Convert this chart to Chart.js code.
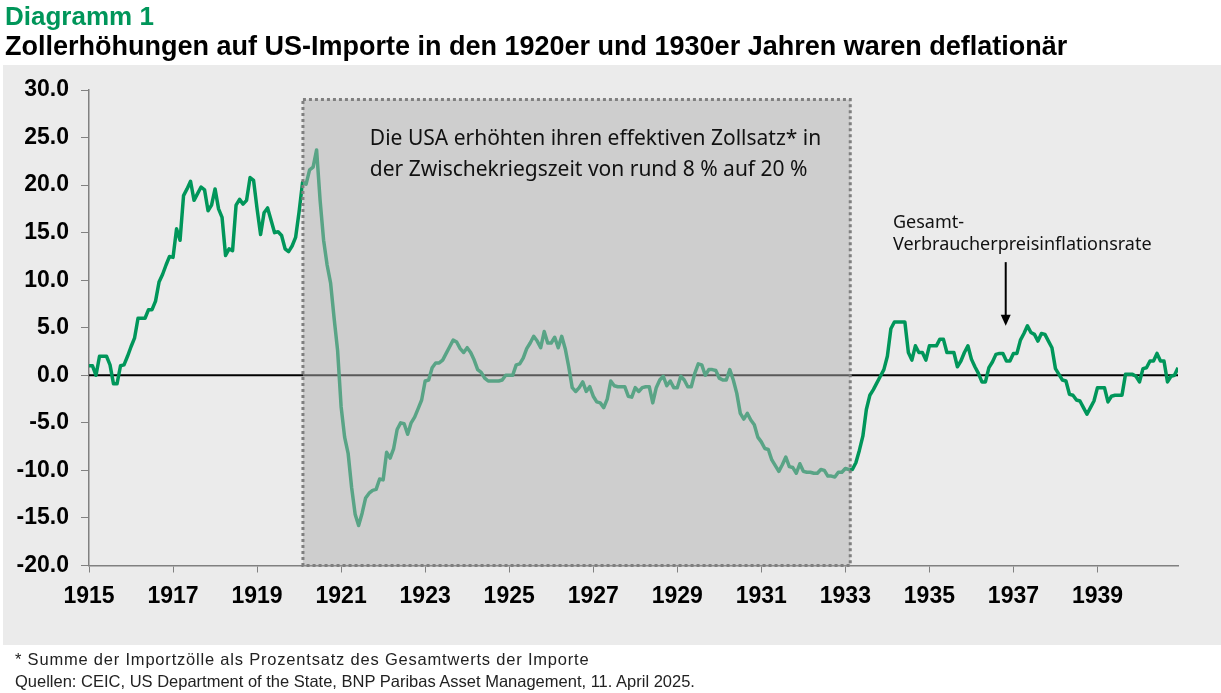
<!DOCTYPE html>
<html lang="de">
<head>
<meta charset="utf-8">
<script src="https://cdn.jsdelivr.net/npm/chart.js@4.4.1/dist/chart.umd.min.js"></script>
<style>
  html, body { margin: 0; padding: 0; background: #fff; }
  body { width: 1221px; height: 693px; position: relative; overflow: hidden; font-family: "Liberation Sans", Arial, sans-serif; }
  #wrap { position: absolute; left: 0; top: 0; width: 1221px; height: 693px; }
  .t1 { position: absolute; left: 5px; top: 1px; font-size: 26px; font-weight: bold; color: #00965a; white-space: nowrap; }
  .t2 { position: absolute; left: 5px; top: 31px; font-size: 27px; font-weight: bold; color: #000; white-space: nowrap; }
  .foot { position: absolute; left: 15px; font-size: 16.5px; color: #222; white-space: nowrap; }
</style>
</head>
<body>
<div id="wrap"><canvas id="cpiChart" width="1221" height="693"></canvas></div>
<div class="t1">Diagramm 1</div>
<div class="t2">Zollerhöhungen auf US-Importe in den 1920er und 1930er Jahren waren deflationär</div>
<div class="foot" style="top:650px; letter-spacing:0.8px">* Summe der Importzölle als Prozentsatz des Gesamtwerts der Importe</div>
<div class="foot" style="top:672px">Quellen: CEIC, US Department of the State, BNP Paribas Asset Management, 11. April 2025.</div>
<script>
// US-Verbraucherpreisinflation, % ggü. Vorjahr, monatlich ab Jan 1915
var startYear = 1915;
var tickYears = [1915, 1917, 1919, 1921, 1923, 1925, 1927, 1929, 1931, 1933, 1935, 1937, 1939];
var yTicks = [-20, -15, -10, -5, 0, 5, 10, 15, 20, 25, 30];
var cpiInflation = [
  1.0, 1.0, 0.0, 2.0, 2.0, 2.0, 1.1, -0.9, -0.9, 1.0, 1.1, 2.0,            // 1915
  3.0, 3.9, 6.0, 6.0, 6.0, 6.9, 6.9, 7.8, 9.8, 10.6, 11.6, 12.5,           // 1916
  12.4, 15.4, 14.2, 18.9, 19.6, 20.4, 18.4, 19.1, 19.8, 19.5, 17.3, 17.9,  // 1917
  19.6, 17.5, 16.6, 12.6, 13.3, 13.1, 17.9, 18.5, 18.0, 18.4, 20.8, 20.5,  // 1918
  17.5, 14.8, 17.1, 17.6, 16.3, 15.0, 15.1, 14.7, 13.3, 13.0, 13.6, 14.5,  // 1919
  17.2, 20.3, 20.1, 21.6, 21.9, 23.7, 18.4, 14.2, 11.6, 9.7, 6.0, 2.6,     // 1920
  -3.3, -6.5, -8.2, -11.8, -14.6, -15.8, -14.5, -12.9, -12.4, -12.1, -12.0, -10.9, // 1921
  -11.0, -8.1, -8.7, -7.7, -5.7, -5.0, -5.1, -6.2, -5.0, -4.4, -3.5, -2.6, // 1922
  -0.6, -0.5, 0.8, 1.3, 1.3, 1.6, 2.3, 3.0, 3.7, 3.5, 2.8, 2.4,            // 1923
  2.9, 2.4, 1.6, 0.6, 0.3, -0.3, -0.6, -0.6, -0.6, -0.6, -0.5, 0.0,        // 1924
  0.0, 0.0, 1.1, 1.2, 1.8, 2.8, 3.4, 4.1, 3.6, 2.9, 4.6, 3.4,              // 1925
  3.4, 4.0, 2.9, 4.1, 2.8, 0.9, -1.3, -1.7, -1.3, -0.7, -1.7, -1.2,        // 1926
  -2.2, -2.8, -2.9, -3.4, -2.5, -0.6, -1.1, -1.2, -1.2, -1.2, -2.2, -2.3,  // 1927
  -1.3, -1.7, -1.3, -1.2, -1.2, -2.9, -1.3, -0.5, -0.1, -1.1, -0.6, -1.3,  // 1928
  -1.3, -0.1, -0.5, -1.2, -1.2, 0.2, 1.2, 1.1, 0.0, 0.6, 0.6, 0.5,         // 1929
  -0.3, -0.5, -0.5, 0.6, -0.5, -1.9, -4.0, -4.6, -4.0, -4.7, -5.2, -6.5,   // 1930
  -7.0, -7.7, -7.8, -8.9, -9.5, -10.1, -9.4, -8.6, -9.6, -9.7, -10.3, -9.3, // 1931
  -10.1, -10.2, -10.2, -10.3, -10.3, -9.9, -10.0, -10.6, -10.6, -10.7, -10.2, -10.2, // 1932
  -9.8, -9.9, -9.9, -9.2, -7.9, -6.4, -3.6, -2.1, -1.5, -0.8, -0.1, 0.6,   // 1933
  2.0, 4.9, 5.6, 5.6, 5.6, 5.6, 2.4, 1.6, 3.1, 2.4, 2.4, 1.6,              // 1934
  3.1, 3.1, 3.1, 3.8, 3.8, 2.4, 2.4, 2.4, 0.9, 1.5, 2.4, 3.1,              // 1935
  1.7, 0.9, 0.2, -0.7, -0.7, 0.8, 1.4, 2.2, 2.3, 2.3, 1.5, 1.5,            // 1936
  2.3, 2.3, 3.7, 4.4, 5.2, 4.5, 4.3, 3.6, 4.4, 4.3, 3.6, 2.9,              // 1937
  0.7, 0.1, -0.5, -0.6, -2.0, -2.1, -2.6, -2.7, -3.4, -4.1, -3.4, -2.7,    // 1938
  -1.3, -1.3, -1.3, -2.8, -2.2, -2.1, -2.1, -2.1, 0.1, 0.1, 0.1, -0.1,     // 1939
  -0.7, 0.7, 0.8, 1.5, 1.5, 2.3, 1.5, 1.5, -0.7, -0.1, 0.0, 0.8            // 1940
];
// Zwischenkriegszeit-Markierung (Monate seit Jan 1915, Wert oben)
var tariffFrom = 61.1, tariffTo = 217.4, tariffTop = 29;

var green = '#00965a';
var points = cpiInflation.map(function (v, i) { return { x: i, y: v }; });

// grauer Hintergrund, Nulllinie, Kasten, Beschriftungen
var decor = {
  id: 'decor',
  beforeDraw: function (chart) {
    var c = chart.ctx;
    c.save();
    c.fillStyle = '#ebebeb';
    c.fillRect(3, 65, 1218, 580);
    c.restore();
  },
  beforeDatasetsDraw: function (chart) {
    var c = chart.ctx, x = chart.scales.x, y = chart.scales.y;
    c.save();
    c.strokeStyle = '#000';
    c.lineWidth = 2;
    c.beginPath();
    c.moveTo(x.left, y.getPixelForValue(0));
    c.lineTo(x.right, y.getPixelForValue(0));
    c.stroke();
    c.restore();
  },
  afterDatasetsDraw: function (chart) {
    var c = chart.ctx, x = chart.scales.x, y = chart.scales.y;
    var x0 = x.getPixelForValue(tariffFrom), x1 = x.getPixelForValue(tariffTo);
    var y0 = y.getPixelForValue(tariffTop), y1 = y.getPixelForValue(-20);
    c.save();
    c.fillStyle = 'rgba(178,178,178,0.5)';
    c.fillRect(x0, y0, x1 - x0, y1 - y0);
    c.strokeStyle = '#7f7f7f';
    c.lineWidth = 3;
    c.setLineDash([3, 3]);
    c.strokeRect(x0, y0, x1 - x0, y1 - y0);
    c.setLineDash([]);

    c.fillStyle = '#111';
    c.textBaseline = 'middle';
    c.font = '21px "Noto Sans", sans-serif';
    c.fillText('Die USA erhöhten ihren effektiven Zollsatz* in', x.getPixelForValue(80.2), y.getPixelForValue(24.8));
    c.fillText('der Zwischekriegszeit von rund 8 % auf 20 %', x.getPixelForValue(80.2), y.getPixelForValue(21.6));

    c.font = '18px "Noto Sans", sans-serif';
    c.fillText('Gesamt-', x.getPixelForValue(229.6), y.getPixelForValue(16.0));
    c.fillText('Verbraucherpreisinflationsrate', x.getPixelForValue(229.6), y.getPixelForValue(13.7));

    var ax = x.getPixelForValue(261.8), ayTop = y.getPixelForValue(11.9), ayEnd = y.getPixelForValue(5.2);
    c.strokeStyle = '#000';
    c.lineWidth = 2;
    c.beginPath();
    c.moveTo(ax, ayTop);
    c.lineTo(ax, ayEnd - 9);
    c.stroke();
    c.fillStyle = '#000';
    c.beginPath();
    c.moveTo(ax - 5, ayEnd - 11);
    c.lineTo(ax + 5, ayEnd - 11);
    c.lineTo(ax, ayEnd);
    c.closePath();
    c.fill();
    c.restore();
  }
};

var chart = new Chart(document.getElementById('cpiChart'), {
  type: 'line',
  data: {
    datasets: [{
      label: 'Gesamt-Verbraucherpreisinflationsrate',
      data: points,
      borderColor: green,
      borderWidth: 3.5,
      pointRadius: 0,
      tension: 0,
      borderJoinStyle: 'round'
    }]
  },
  options: {
    responsive: false,
    animation: false,
    devicePixelRatio: 1,
    layout: { autoPadding: false, padding: { left: 0, top: 90, right: 43, bottom: 0 } },
    plugins: { legend: { display: false }, tooltip: { enabled: false } },
    scales: {
      x: {
        type: 'linear',
        min: 0,
        max: 311,
        afterBuildTicks: function (s) {
          s.ticks = tickYears.map(function (yr) { return { value: (yr - startYear) * 12 }; });
        },
        afterFit: function (s) { s.height = 127.5; },
        ticks: {
          callback: function (v) { return String(startYear + v / 12); },
          color: '#000',
          font: { family: '"Liberation Sans", Arial, sans-serif', size: 23, weight: 'bold' },
          padding: 10,
          maxRotation: 0,
          autoSkip: false
        },
        grid: { drawOnChartArea: false, drawTicks: true, tickLength: 7, color: '#808080' },
        border: { display: true, color: '#808080', width: 1.5 }
      },
      y: {
        min: -20,
        max: 30,
        afterBuildTicks: function (s) {
          s.ticks = yTicks.map(function (v) { return { value: v }; });
        },
        afterFit: function (s) { s.width = 89; },
        ticks: {
          callback: function (v) { return v.toFixed(1); },
          color: '#000',
          font: { family: '"Liberation Sans", Arial, sans-serif', size: 23, weight: 'bold' },
          padding: 12
        },
        grid: { drawOnChartArea: false, drawTicks: true, tickLength: 8, color: '#808080' },
        border: { display: true, color: '#808080', width: 1.5 }
      }
    }
  },
  plugins: [decor]
});
</script>
</body>
</html>
